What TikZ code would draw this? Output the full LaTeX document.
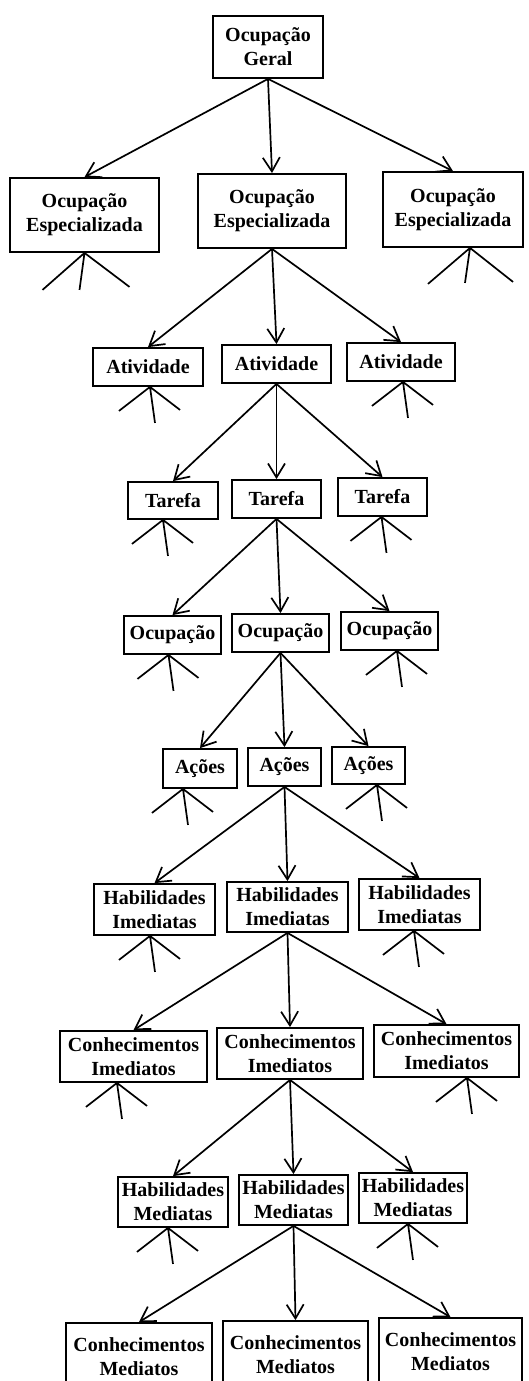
\documentclass[tikz,border=0pt]{standalone}
\usepackage{fontspec}
\setmainfont{Liberation Serif}
\usetikzlibrary{arrows.meta,calc}

\tikzset{
  box/.style={draw, line width=1.8pt, inner sep=0pt, align=center,
    font=\fontsize{20}{24}\selectfont\bfseries},
  link/.style={line width=1.7pt, -{Straight Barb[length=14pt,width=17pt]}},
  stub/.style={line width=1.7pt},
}

% three short open branches under a box: node, x offset of the root,
% then the offsets of the left, middle and right ends
\newcommand\twigsat[5]{%
  \coordinate (#1-o) at ($(#1.south)+(#2,0)$);
  \coordinate (#1-l) at ($(#1-o)+#3$);
  \coordinate (#1-m) at ($(#1-o)+#4$);
  \coordinate (#1-r) at ($(#1-o)+#5$);
  \draw[stub] (#1-l) -- (#1-o) -- (#1-r) (#1-o) -- (#1-m);
}
\newcommand\twigs[2]{\twigsat{#1}{#2}{(-31,24)}{(5,36)}{(30,23)}}

\begin{document}
\begin{tikzpicture}[x=1pt,y=-1pt]
\useasboundingbox (0,0) rectangle (528,1381);
\clip (0,0) rectangle (528,1381);

% level 0
\node[box, minimum width=110pt, minimum height=62pt] (g) at (268,47) {Ocupação\\Geral};

% level 1
\node[box, minimum width=149pt, minimum height=74pt] (e1) at (84.5,215) {Ocupação\\Especializada};
\node[box, minimum width=148pt, minimum height=74pt] (e2) at (272,211) {Ocupação\\Especializada};
\node[box, minimum width=140pt, minimum height=75pt] (e3) at (453,209.5) {Ocupação\\Especializada};

% level 2
\node[box, minimum width=110pt, minimum height=38pt] (a1) at (148,367) {Atividade};
\node[box, minimum width=109pt, minimum height=38pt] (a2) at (276.5,364) {Atividade};
\node[box, minimum width=108pt, minimum height=38pt] (a3) at (401,362) {Atividade};

% level 3
\node[box, minimum width=90pt, minimum height=37pt] (t1) at (173,500.5) {Tarefa};
\node[box, minimum width=89pt, minimum height=38pt] (t2) at (276.5,499) {Tarefa};
\node[box, minimum width=89pt, minimum height=38pt] (t3) at (382.5,497) {Tarefa};

% level 4
\node[box, minimum width=97pt, minimum height=38pt] (o1) at (172.5,635) {Ocupação};
\node[box, minimum width=97pt, minimum height=38pt] (o2) at (280.5,633) {Ocupação};
\node[box, minimum width=97pt, minimum height=38pt] (o3) at (389.5,631) {Ocupação};

% level 5
\node[box, minimum width=74pt, minimum height=39pt] (c1) at (200,768.5) {Ações};
\node[box, minimum width=73pt, minimum height=38pt] (c2) at (284.5,767) {Ações};
\node[box, minimum width=73pt, minimum height=37pt] (c3) at (368.5,765.5) {Ações};

% level 6
\node[box, minimum width=121pt, minimum height=51pt] (h1) at (154.5,909.5) {Habilidades\\Imediatas};
\node[box, minimum width=121pt, minimum height=50pt] (h2) at (287.5,907) {Habilidades\\Imediatas};
\node[box, minimum width=121pt, minimum height=51pt] (h3) at (419.5,904.5) {Habilidades\\Imediatas};

% level 7
\node[box, minimum width=147pt, minimum height=51pt] (k1) at (133.5,1056.5) {Conhecimentos\\Imediatos};
\node[box, minimum width=146pt, minimum height=51pt] (k2) at (290,1053.5) {Conhecimentos\\Imediatos};
\node[box, minimum width=145pt, minimum height=52pt] (k3) at (446.5,1051) {Conhecimentos\\Imediatos};

% level 8
\node[box, minimum width=110pt, minimum height=50pt] (m1) at (173,1202) {Habilidades\\Mediatas};
\node[box, minimum width=109pt, minimum height=50pt] (m2) at (293.5,1200) {Habilidades\\Mediatas};
\node[box, minimum width=108pt, minimum height=50pt] (m3) at (413,1198) {Habilidades\\Mediatas};

% level 9
\node[box, minimum width=146pt, minimum height=68pt] (n1) at (139,1357) {Conhecimentos\\Mediatos};
\node[box, minimum width=145pt, minimum height=68pt] (n2) at (295.5,1355) {Conhecimentos\\Mediatos};
\node[box, minimum width=143pt, minimum height=68pt] (n3) at (450.5,1352) {Conhecimentos\\Mediatos};

% expanding links
\foreach \p/\a/\b/\c in {g/e1/e2/e3, e2/a1/a2/a3, a2/t1/t2/t3, t2/o1/o2/o3,
    o2/c1/c2/c3, c2/h1/h2/h3, h2/k1/k2/k3, k2/m1/m2/m3, m2/n1/n2/n3}{
  \draw[link] (\p.south) -- (\a.north);
  \draw[link] (\p.south) -- (\b.north);
  \draw[link] (\p.south) -- (\c.north);
}

% unexpanded branches
\twigsat{e1}{0}{(-42,37)}{(-5,37)}{(45,34)}
\twigsat{e3}{17}{(-42,36)}{(-5,35)}{(43,34)}
\twigs{a1}{2}
\twigs{a3}{2}
\twigs{t1}{-10}
\twigs{t3}{-1}
\twigs{o1}{-4}
\twigs{o3}{7.5}
\twigs{c1}{-17}
\twigs{c3}{8.5}
\twigs{h1}{-4.5}
\twigs{h3}{-5.5}
\twigs{k1}{-16.5}
\twigs{k3}{20.5}
\twigs{m1}{-5}
\twigs{m3}{-5}
\end{tikzpicture}
\end{document}
